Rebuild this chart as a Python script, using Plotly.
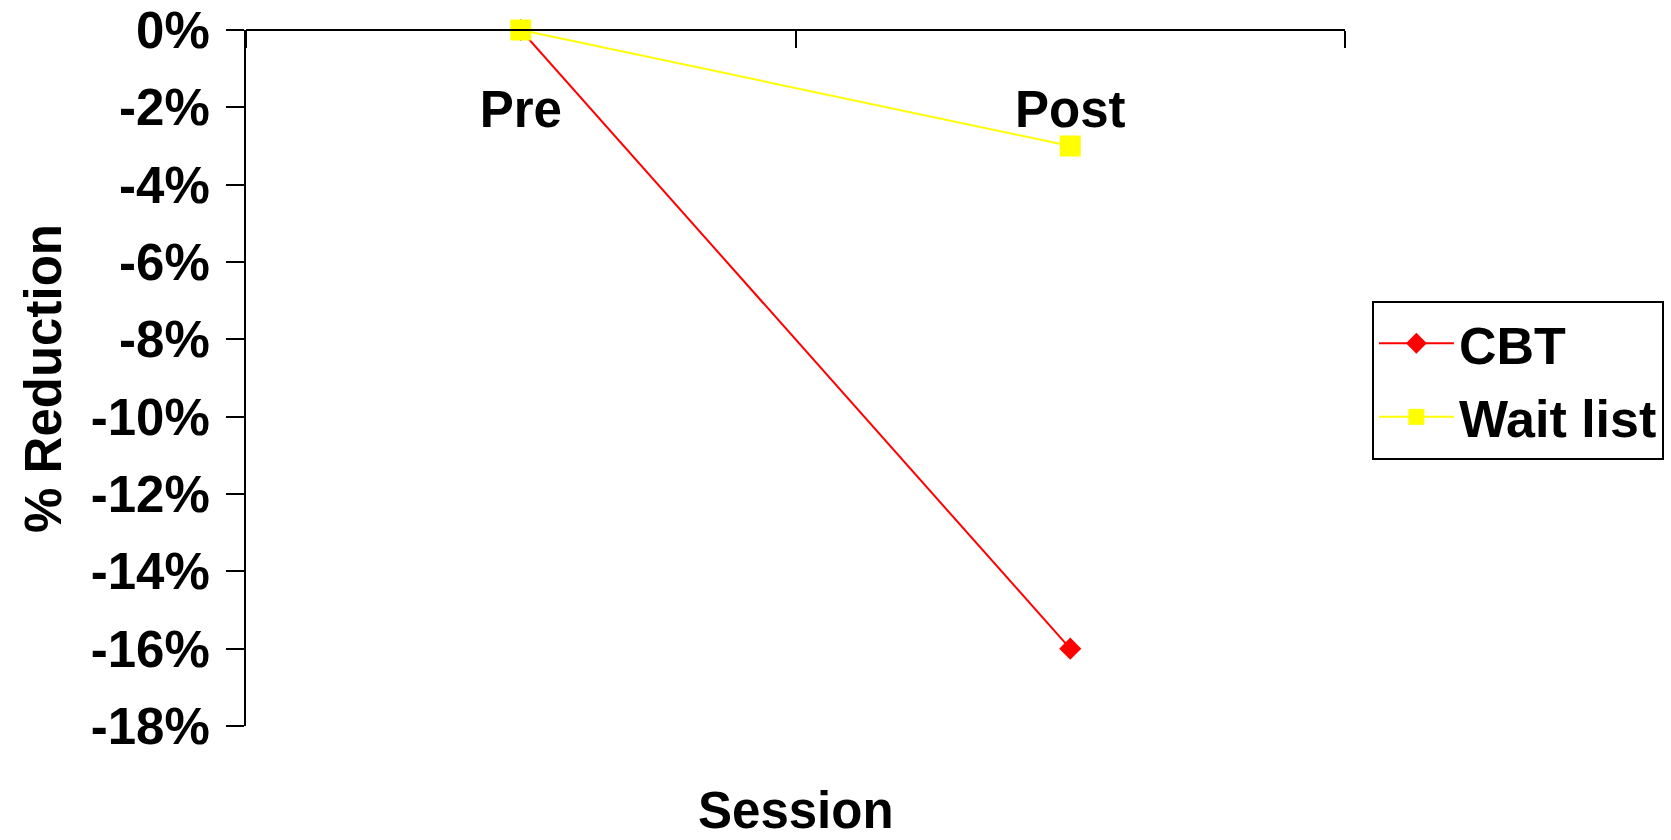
import plotly.graph_objects as go

# Session categories and mean % change per group
sessions = ["Pre", "Post"]
cbt = [0.0, -0.16]
wait_list = [0.0, -0.03]

y_ticks = [0, -0.02, -0.04, -0.06, -0.08, -0.10, -0.12, -0.14, -0.16, -0.18]
y_tick_labels = ["0%", "-2%", "-4%", "-6%", "-8%", "-10%", "-12%", "-14%", "-16%", "-18%"]

FONT = "Liberation Sans, Arial, sans-serif"
SIZE = 51

fig = go.Figure()

fig.add_trace(go.Scatter(
    x=sessions, y=cbt, name="CBT", mode="lines+markers",
    line=dict(color="#FF0000", width=2),
    marker=dict(symbol="diamond", size=17, color="#FF0000"),
    cliponaxis=False, legendgroup="a",
))
fig.add_trace(go.Scatter(
    x=sessions, y=wait_list, name="Wait list", mode="lines+markers",
    line=dict(color="#FFFF00", width=2),
    marker=dict(symbol="square", size=21, color="#FFFF00"),
    cliponaxis=False, legendgroup="b",
))

fig.update_layout(
    width=1671, height=840,
    margin=dict(l=246, r=326, t=30, b=114),
    paper_bgcolor="white", plot_bgcolor="white",
    font=dict(family=FONT, size=SIZE, color="black", weight="bold"),
    showlegend=True,
    legend=dict(
        xref="container", yref="container",
        x=0.821, y=0.6417, xanchor="left", yanchor="top",
        bordercolor="black", borderwidth=2, bgcolor="white",
        font=dict(family=FONT, size=52, color="black", weight="bold"),
        tracegroupgap=3, traceorder="grouped", itemwidth=75,
    ),
    xaxis=dict(
        type="category", categoryorder="array", categoryarray=sessions,
        range=[-0.5, 1.5], anchor="free", position=1, side="bottom",
        showline=True, linecolor="black", linewidth=2,
        ticks="outside", ticklen=17, tickwidth=2, tickcolor="black",
        tickson="boundaries", ticklabelstandoff=35,
        showgrid=False, zeroline=False, automargin=False,
        tickfont=dict(family=FONT, size=SIZE, color="black", weight="bold"),
    ),
    yaxis=dict(
        range=[-0.18, 0], tickmode="array", tickvals=y_ticks, ticktext=y_tick_labels,
        showline=True, linecolor="black", linewidth=2,
        ticks="outside", ticklen=18, tickwidth=2, tickcolor="black",
        ticklabelstandoff=6,
        showgrid=False, zeroline=False, automargin=False,
        tickfont=dict(family=FONT, size=SIZE, color="black", weight="bold"),
    ),
    annotations=[
        dict(text="Session", xref="paper", yref="paper", x=0.5, y=-0.1221,
             xanchor="center", yanchor="middle", showarrow=False,
             font=dict(family=FONT, size=SIZE, color="black", weight="bold")),
        dict(text="% Reduction", xref="paper", yref="paper", x=-0.1848, y=0.5,
             xanchor="center", yanchor="middle", textangle=-90, showarrow=False,
             font=dict(family=FONT, size=SIZE, color="black", weight="bold")),
    ],
)

fig.write_html("out.html")
